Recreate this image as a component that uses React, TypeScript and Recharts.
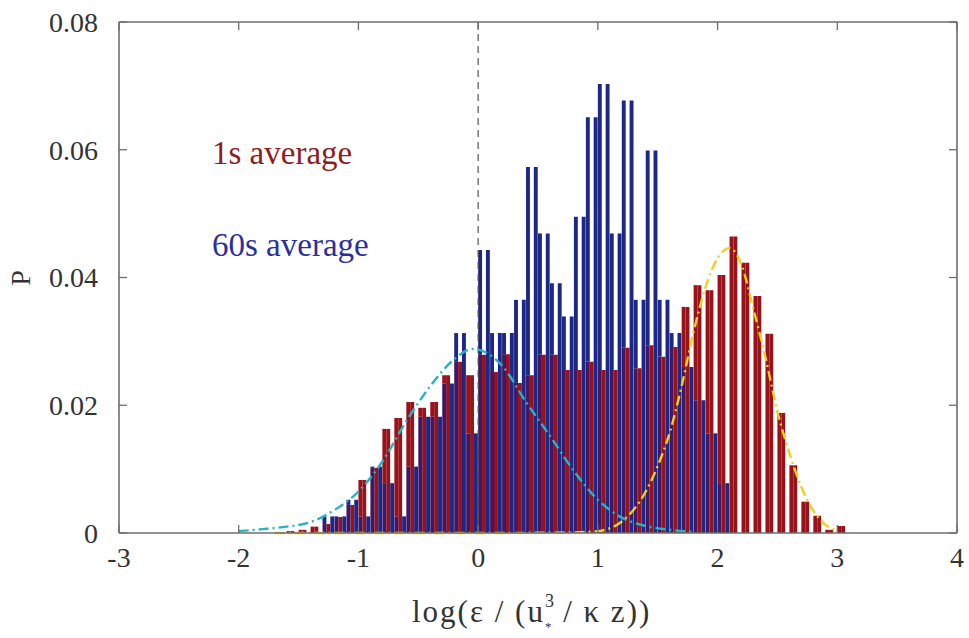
import React from 'react'
import { ComposedChart, Bar, Line, XAxis, YAxis, ReferenceLine } from 'recharts'

// bin centres of both histograms (bin width 0.1)
const BIN_CENTERS = [
  -1.55, -1.45, -1.35, -1.25, -1.15, -1.05, -0.95, -0.85, -0.75, -0.65,
  -0.55, -0.45, -0.35, -0.25, -0.15, -0.05, 0.05, 0.15, 0.25, 0.35,
  0.45, 0.55, 0.65, 0.75, 0.85, 0.95, 1.05, 1.15, 1.25, 1.35,
  1.45, 1.55, 1.65, 1.75, 1.85, 1.95, 2.05, 2.15, 2.25, 2.35,
  2.45, 2.55, 2.65, 2.75, 2.85, 2.95, 3.05,
]

// 1s average histogram (red)
const P_1S = [
  0.0003, 0.0005, 0.0010, 0.0014, 0.0025, 0.0044, 0.0083, 0.0102, 0.0163, 0.0180,
  0.0205, 0.0196, 0.0205, 0.0247, 0.0268, 0.0247, 0.0279, 0.0252, 0.0280, 0.0235,
  0.0247, 0.0279, 0.0279, 0.0255, 0.0255, 0.0268, 0.0255, 0.0255, 0.0290, 0.0258,
  0.0294, 0.0276, 0.0291, 0.0354, 0.0388, 0.0380, 0.0404, 0.0464, 0.0423, 0.0371,
  0.0312, 0.0188, 0.0106, 0.0049, 0.0027, 0.0005, 0.0011,
]

// 60s average histogram (blue)
const P_60S = [
  0, 0, 0, 0.0026, 0.0026, 0.0052, 0.0026, 0.0104, 0.0078, 0.0026,
  0.0104, 0.0182, 0.0182, 0.0234, 0.0313, 0.0156, 0.0443, 0.0313, 0.0313, 0.0365,
  0.0573, 0.0469, 0.0391, 0.0339, 0.0495, 0.0651, 0.0703, 0.0469, 0.0677, 0.0365,
  0.0599, 0.0365, 0.0313, 0.0260, 0.0208, 0.0156, 0.0078, 0, 0, 0,
  0, 0, 0, 0, 0, 0, 0,
]

// fitted curve, 60s average (cyan dash-dot)
const FIT_60S_X = [-2.0, -1.8, -1.6, -1.4, -1.2, -1.0, -0.8, -0.6, -0.4, -0.2, -0.05, 0.0, 0.2, 0.4, 0.6, 0.8, 1.0, 1.2, 1.4, 1.6, 1.8]
const FIT_60S_P = [0.0003, 0.0006, 0.0010, 0.0017, 0.0036, 0.0065, 0.0112, 0.0175, 0.0230, 0.0272, 0.0288, 0.0287, 0.0262, 0.0205, 0.0152, 0.0097, 0.0052, 0.0024, 0.0011, 0.0005, 0.0002]

// fitted curve, 1s average (yellow dash-dot)
const FIT_1S_X = [-1.7, -1.0, 0.0, 0.8, 1.0, 1.2, 1.4, 1.5, 1.6, 1.7, 1.8, 1.9, 2.0, 2.1, 2.2, 2.3, 2.4, 2.5, 2.6, 2.7, 2.8, 2.9, 3.0]
const FIT_1S_P = [0, 0, 0, 0.0001, 0.0003, 0.0018, 0.0065, 0.0105, 0.0157, 0.0230, 0.0315, 0.0385, 0.0430, 0.0446, 0.0420, 0.0350, 0.0275, 0.0190, 0.0125, 0.0072, 0.0035, 0.0013, 0.0004]

const X_TICKS = [-3, -2, -1, 0, 1, 2, 3, 4]
const Y_TICKS = [0, 0.02, 0.04, 0.06, 0.08]

const W = 969
const H = 638
const M = { top: 22, right: 12, bottom: 105, left: 119 }
const FONT = "'Liberation Serif', 'Times New Roman', Times, serif"
const AXIS = '#6e6e6e'
const TXT = '#333'

const RED = '#9a1219'
const BLUE = '#1d2787'
const MIX = '#3d1866'

// red | overlap | blue strips per bin
const histRows = BIN_CENTERS.map((x, i) => {
  const r = P_1S[i]
  const b = P_60S[i]
  return {
    x,
    red: r,
    both: Math.min(r, b),
    redTop: Math.max(r - b, 0),
    blueTop: Math.max(b - r, 0),
    blue: b,
  }
})
const fit60 = FIT_60S_X.map((x, i) => ({ x, p: FIT_60S_P[i] }))
const fit1 = FIT_1S_X.map((x, i) => ({ x, p: FIT_1S_P[i] }))

const txtStyle = { fontFamily: FONT }

function XTick({ x, y, payload }: any) {
  return (
    <g>
      <line x1={x} x2={x} y1={y} y2={y - 8} stroke={AXIS} strokeWidth={1.3} />
      <line x1={x} x2={x} y1={M.top} y2={M.top + 8} stroke={AXIS} strokeWidth={1.3} />
      <text x={x} y={y + 34} textAnchor="middle" fill={TXT} fontSize={28} style={txtStyle}>
        {payload.value}
      </text>
    </g>
  )
}

function YTick({ x, y, payload }: any) {
  return (
    <g>
      <line x1={x} x2={x + 8} y1={y} y2={y} stroke={AXIS} strokeWidth={1.3} />
      <line x1={W - M.right} x2={W - M.right - 8} y1={y} y2={y} stroke={AXIS} strokeWidth={1.3} />
      <text x={x - 21} y={y} dy="0.35em" textAnchor="end" fill={TXT} fontSize={28} style={txtStyle}>
        {payload.value}
      </text>
    </g>
  )
}

export default function App() {
  return (
    <div style={{ position: 'absolute', left: 0, top: 0, width: W, height: H, background: '#fff' }}>
      <ComposedChart width={W} height={H} data={histRows} margin={{ top: M.top, right: M.right, bottom: 0, left: 0 }} barGap={0}>
        <XAxis
          dataKey="x"
          type="number"
          domain={[-3, 4]}
          ticks={X_TICKS}
          interval={0}
          height={M.bottom}
          tickSize={0}
          tickMargin={0}
          tick={<XTick />}
          axisLine={{ stroke: AXIS, strokeWidth: 1.6 }}
        />
        <XAxis xAxisId="fit" dataKey="x" type="number" domain={[-3, 4]} hide />
        <YAxis
          type="number"
          domain={[0, 0.08]}
          ticks={Y_TICKS}
          interval={0}
          width={M.left}
          tickSize={0}
          tickMargin={0}
          tick={<YTick />}
          axisLine={{ stroke: AXIS, strokeWidth: 1.6 }}
        />
        <ReferenceLine x={0} stroke="#555" strokeDasharray="7 5" strokeWidth={1.2} />

        <Bar dataKey="red" fill={RED} barSize={3.9} isAnimationActive={false} />
        <Bar dataKey="both" stackId="mid" fill={MIX} barSize={3.9} isAnimationActive={false} />
        <Bar dataKey="redTop" stackId="mid" fill={RED} barSize={3.9} isAnimationActive={false} />
        <Bar dataKey="blueTop" stackId="mid" fill={BLUE} barSize={3.9} isAnimationActive={false} />
        <Bar dataKey="blue" fill={BLUE} barSize={3.9} isAnimationActive={false} />

        <Line
          xAxisId="fit"
          data={fit1}
          dataKey="p"
          type="monotone"
          stroke="#f0cf1e"
          strokeWidth={2.4}
          strokeDasharray="10 4 2 4"
          dot={false}
          isAnimationActive={false}
        />
        <Line
          xAxisId="fit"
          data={fit60}
          dataKey="p"
          type="monotone"
          stroke="#2ab2c6"
          strokeWidth={2.4}
          strokeDasharray="10 4 2 4"
          dot={false}
          isAnimationActive={false}
        />

        <ReferenceLine y={0.08} stroke={AXIS} strokeWidth={1.6} />
        <ReferenceLine x={4} stroke={AXIS} strokeWidth={1.6} />
      </ComposedChart>

      <svg width={W} height={H} style={{ position: 'absolute', left: 0, top: 0, pointerEvents: 'none' }}>
        <text x={212} y={164} fill="#8f1c20" fontSize={33} style={txtStyle}>1s average</text>
        <text x={212} y={256} fill="#2a2f9e" fontSize={33} style={txtStyle}>60s average</text>
        <text x={30} y={278} transform="rotate(-90 30 278)" textAnchor="middle" fill={TXT} fontSize={28} style={txtStyle}>P</text>
        <text x={412} y={622} fill={TXT} fontSize={31} letterSpacing={2} style={txtStyle} xmlSpace="preserve">
          log(ε / (u
          <tspan dy={-15} fontSize={18}>3</tspan>
          <tspan dx={-11} dy={24} fontSize={13}>*</tspan>
          <tspan dy={-9} fontSize={31}> / κ z))</tspan>
        </text>
      </svg>
    </div>
  )
}
